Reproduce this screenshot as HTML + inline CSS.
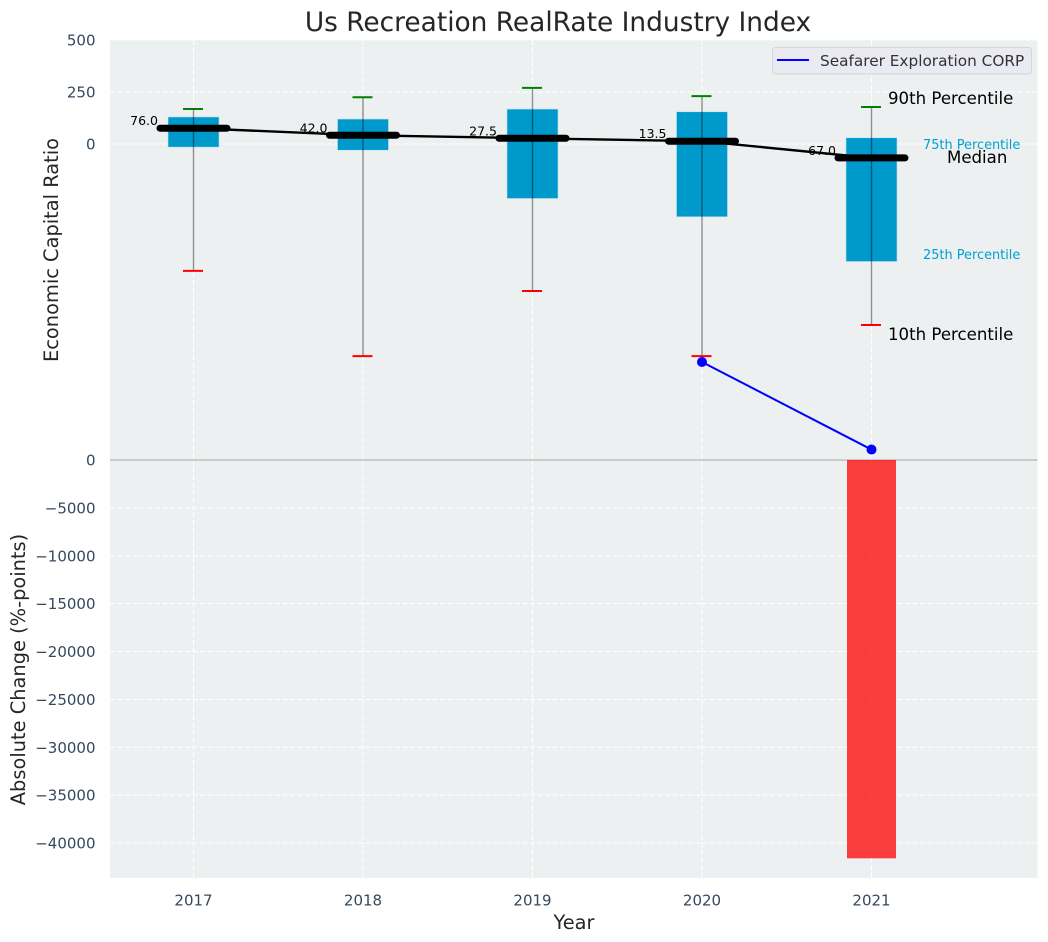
<!DOCTYPE html>
<html>
<head>
<meta charset="utf-8">
<style>
html,body{margin:0;padding:0;background:#fff;}
svg{display:block;font-family:"DejaVu Sans","Liberation Sans",sans-serif;}
</style>
</head>
<body>
<svg id="chart" width="1048" height="942" viewBox="0 0 1048 942" xmlns="http://www.w3.org/2000/svg">
  <rect x="110" y="40" width="927.5" height="838" fill="#ecf0f1"/>
  <g id="grid"></g>
  <g id="ticks"></g>
  <line x1="110" x2="1037.5" y1="460" y2="460" stroke="#bdbdbd" stroke-width="1.5"/>
  <g id="bars"></g>
  <g id="boxes"></g>
  <g id="labels"></g>
  <g id="medians"></g>
  <g id="company"></g>

  <text x="558" y="31" text-anchor="middle" font-size="26.4" fill="#262626">Us Recreation RealRate Industry Index</text>
  <text x="574" y="929" text-anchor="middle" font-size="19.4" fill="#262626">Year</text>
  <text transform="translate(58,250) rotate(-90)" text-anchor="middle" font-size="19.4" fill="#262626">Economic Capital Ratio</text>
  <text transform="translate(25,669.5) rotate(-90)" text-anchor="middle" font-size="19.4" fill="#262626">Absolute Change (%-points)</text>

  <text x="888" y="104" font-size="16.6" fill="#000">90th Percentile</text>
  <text x="923" y="149" font-size="12.9" fill="#00a0d0">75th Percentile</text>
  <text x="947" y="163" font-size="16.6" fill="#000">Median</text>
  <text x="923" y="259" font-size="12.9" fill="#00a0d0">25th Percentile</text>
  <text x="888" y="340" font-size="16.6" fill="#000">10th Percentile</text>

  <g>
    <rect x="772.5" y="47.5" width="259" height="26.5" rx="3" fill="#eaeaf2" stroke="#d4d6da" stroke-width="1"/>
    <line x1="777" x2="809" y1="60" y2="60" stroke="#0000ff" stroke-width="2"/>
    <text x="820" y="66" font-size="15.3" fill="#333">Seafarer Exploration CORP</text>
  </g>
</svg>
<script>
var years = [2017, 2018, 2019, 2020, 2021];
var p90 = [168, 225, 270, 230, 178];
var p75 = [130, 120, 168, 155, 30];
var medianValues = [76, 42, 27.5, 13.5, -67];
var medianText = ["76.0", "42.0", "27.5", "13.5", "67.0"];
var p25 = [-15, -30, -262, -350, -565];
var p10 = [-610, -1020, -707, -1020, -870];
var companyYears = [2020, 2021];
var companyValues = [-1048, -1469];
var barYears = [2021];
var barValues = [-41600];
var topTicks = [500, 250, 0];
var bottomTicks = [0, -5000, -10000, -15000, -20000, -25000, -30000, -35000, -40000];

var NS = 'http://www.w3.org/2000/svg';
function fx(year) { return 193.5 + (year - 2017) * 169.5; }
function fyTop(v) { return 144 - v * 0.208; }
function fyBottom(v) { return 460 - v * 0.009575; }
function add(parent, tag, attrs, text) {
  var el = document.createElementNS(NS, tag);
  for (var k in attrs) { el.setAttribute(k, attrs[k]); }
  if (text !== undefined) { el.textContent = text; }
  document.getElementById(parent).appendChild(el);
  return el;
}
function fmt(v) { return v < 0 ? '\u2212' + Math.abs(v) : String(v); }

var el;
years.forEach(function (y) {
  el = add('grid', 'line', {x1: fx(y), x2: fx(y), y1: 40, y2: 878, stroke: '#fff', 'stroke-width': 1, 'stroke-dasharray': '5 2.5'});
  
  
  el = add('ticks', 'text', {x: fx(y), y: 905.5, 'text-anchor': 'middle', 'font-size': 15, fill: '#34495e'}, String(y));
  
  
});
topTicks.forEach(function (v) {
  el = add('grid', 'line', {x1: 110, x2: 1037.5, y1: fyTop(v), y2: fyTop(v), stroke: '#fff', 'stroke-width': 1, 'stroke-dasharray': '5 2.5'});
  
  
  el = add('ticks', 'text', {x: 95.5, y: fyTop(v) + 5.5, 'text-anchor': 'end', 'font-size': 15, fill: '#34495e'}, fmt(v));
  
  
});
bottomTicks.forEach(function (v) {
  el = add('grid', 'line', {x1: 110, x2: 1037.5, y1: fyBottom(v), y2: fyBottom(v), stroke: '#fff', 'stroke-width': 1, 'stroke-dasharray': '5 2.5'});
  
  
  el = add('ticks', 'text', {x: 95.5, y: fyBottom(v) + 5.5, 'text-anchor': 'end', 'font-size': 15, fill: '#34495e'}, fmt(v));
  
  
});
barYears.forEach(function (y, i) {
  var top = fyBottom(0), bot = fyBottom(barValues[i]);
  el = add('bars', 'rect', {x: fx(y) - 24.5, y: top, width: 49, height: bot - top, fill: '#ff0000', 'fill-opacity': 0.75});
  
  
});
years.forEach(function (y, i) {
  var x = fx(y);
  var t = fyTop(p75[i]), b = fyTop(p25[i]);
  el = add('boxes', 'rect', {x: x - 25.5, y: t, width: 51, height: b - t, fill: '#0099cc', stroke: '#bfe3ee', 'stroke-width': 0.6});
  
  
  el = add('boxes', 'line', {x1: x, x2: x, y1: fyTop(p90[i]), y2: fyTop(p10[i]), stroke: '#000', 'stroke-opacity': 0.42, 'stroke-width': 1.4});
  
  
  el = add('boxes', 'line', {x1: x - 10.5, x2: x + 9.5, y1: fyTop(p90[i]), y2: fyTop(p90[i]), stroke: '#008000', 'stroke-width': 2});
  
  
  el = add('boxes', 'line', {x1: x - 10.5, x2: x + 9.5, y1: fyTop(p10[i]), y2: fyTop(p10[i]), stroke: '#ff0000', 'stroke-width': 2});
  
  
  el = add('labels', 'text', {x: x - 35.5, y: fyTop(medianValues[i]) - 3, 'text-anchor': 'end', 'font-size': 12.5, fill: '#000'}, medianText[i]);
  
  
});
el = add('medians', 'polyline', {points: years.map(function (y, i) { return fx(y) + ',' + fyTop(medianValues[i]); }).join(' '), fill: 'none', stroke: '#000', 'stroke-width': 2.4});


years.forEach(function (y, i) {
  var x = fx(y), m = fyTop(medianValues[i]);
  el = add('medians', 'line', {x1: x - 33.5, x2: x + 33.5, y1: m, y2: m, stroke: '#000', 'stroke-width': 7, 'stroke-linecap': 'round'});
  
  
});
el = add('company', 'polyline', {points: companyYears.map(function (y, i) { return fx(y) + ',' + fyTop(companyValues[i]); }).join(' '), fill: 'none', stroke: '#0000ff', 'stroke-width': 2});


companyYears.forEach(function (y, i) {
  el = add('company', 'circle', {cx: fx(y), cy: fyTop(companyValues[i]), r: 5, fill: '#0000ff'});
  
  
});
</script>
</body>
</html>
